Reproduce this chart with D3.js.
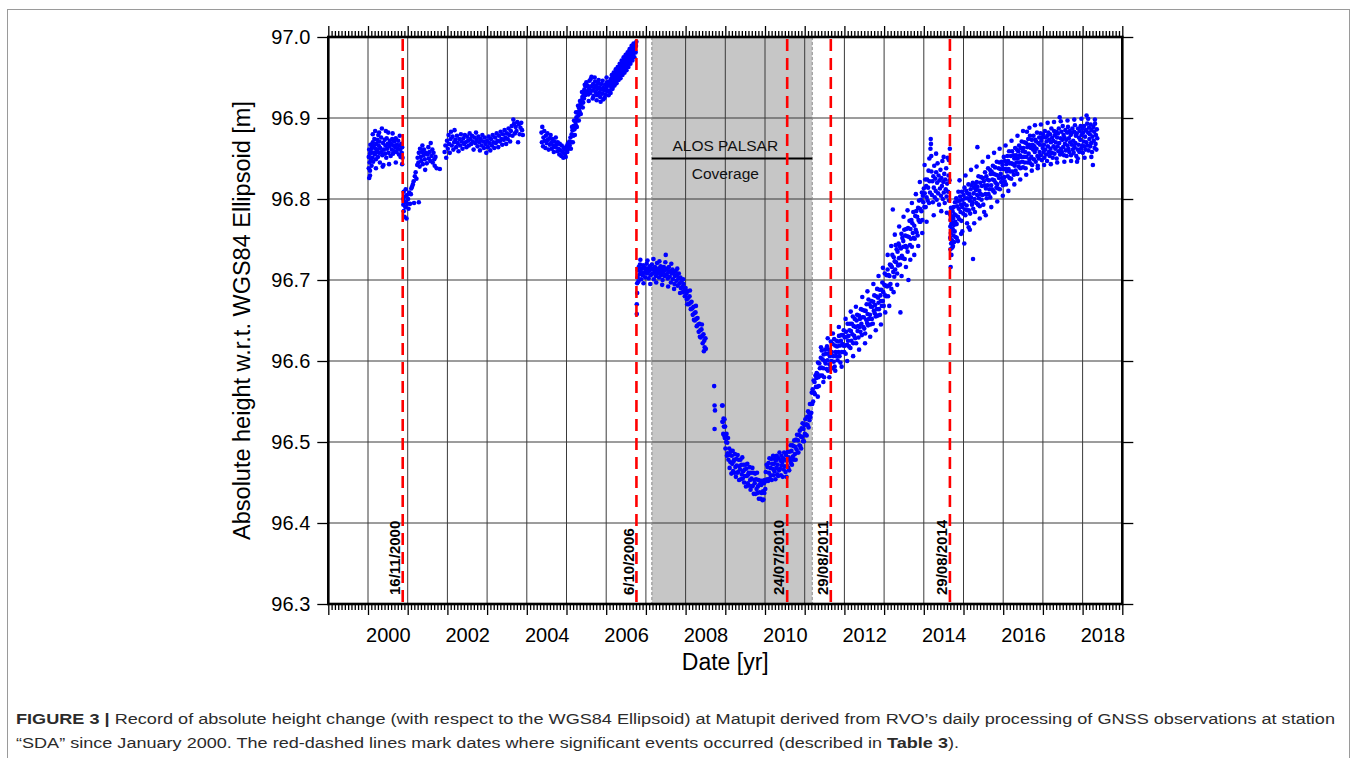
<!DOCTYPE html>
<html>
<head>
<meta charset="utf-8">
<script src="https://cdn.jsdelivr.net/npm/d3@7"></script>
<style>
  body { margin: 0; background: #fff; }
  svg { display: block; }
</style>
</head>
<body>
<svg id="fig" width="1357" height="758"></svg>
<script>
// Daily GNSS solutions for station SDA (Matupit): [decimal year, ellipsoidal height in m]
const obs2000 = [[2000.02,96.852],[2000.02,96.838],[2000.03,96.861],[2000.04,96.845],[2000.05,96.829],[2000.05,96.856],[2000.06,96.867],[2000.07,96.848],[2000.08,96.858],[2000.09,96.841],[2000.10,96.863],[2000.11,96.851],[2000.12,96.870],[2000.13,96.846],[2000.14,96.857],[2000.15,96.866],[2000.16,96.874],[2000.17,96.855],[2000.18,96.884],[2000.19,96.862],[2000.20,96.849],[2000.21,96.868],[2000.22,96.858],[2000.23,96.873],[2000.24,96.861],[2000.25,96.852],[2000.26,96.879],[2000.27,96.866],[2000.28,96.857],[2000.29,96.871],[2000.30,96.845],[2000.31,96.863],[2000.33,96.876],[2000.34,96.858],[2000.35,96.887],[2000.36,96.854],[2000.38,96.869],[2000.39,96.842],[2000.40,96.861],[2000.42,96.873],[2000.43,96.856],[2000.44,96.866],[2000.46,96.851],[2000.47,96.875],[2000.48,96.862],[2000.50,96.868],[2000.51,96.882],[2000.52,96.857],[2000.54,96.865],[2000.55,96.872],[2000.57,96.853],[2000.58,96.868],[2000.60,96.861],[2000.61,96.874],[2000.63,96.856],[2000.64,96.866],[2000.66,96.871],[2000.67,96.859],[2000.69,96.864],[2000.70,96.875],[2000.72,96.858],[2000.73,96.867],[2000.75,96.862],[2000.76,96.872],[2000.78,96.855],[2000.79,96.866],[2000.81,96.861],[2000.82,96.852],[2000.84,96.868],[2000.85,96.857],[2000.86,96.864],[2000.87,96.851],
  [2000.03,96.826],[2000.05,96.835],[2000.12,96.880],[2000.20,96.838],[2000.28,96.882],[2000.37,96.840],[2000.45,96.884],[2000.53,96.843],[2000.62,96.881],[2000.70,96.845],[2000.80,96.878],[2000.86,96.843]];

const obs2001 = [[2000.89,96.800],[2000.89,96.793],[2000.90,96.809],[2000.90,96.785],[2000.91,96.797],[2000.92,96.778],[2000.93,96.803],[2000.94,96.790],[2000.95,96.812],[2000.96,96.796],[2000.97,96.776],[2000.98,96.805],[2000.99,96.794],[2001.01,96.800],[2001.02,96.788],[2001.04,96.808],[2001.06,96.794],[2001.08,96.806],[2001.09,96.813],[2001.11,96.815],[2001.13,96.818],[2001.15,96.822],[2001.16,96.795],[2001.18,96.828],[2001.20,96.833],[2001.22,96.825],[2001.24,96.842],[2001.25,96.851],[2001.27,96.845],[2001.28,96.796],[2001.28,96.857],[2001.30,96.840],[2001.31,96.862],[2001.33,96.852],[2001.34,96.847],[2001.36,96.858],[2001.37,96.866],[2001.38,96.843],[2001.40,96.854],[2001.41,96.861],[2001.43,96.849],[2001.44,96.836],[2001.46,96.857],[2001.48,96.844],[2001.50,96.855],[2001.52,96.864],[2001.53,96.850],[2001.55,96.858],[2001.57,96.847],[2001.58,96.869],[2001.60,96.853],[2001.62,96.861],[2001.63,96.845],[2001.65,96.857],[2001.67,96.849],[2001.68,96.841],[2001.70,96.852],[2001.73,96.838],[2001.81,96.837]];

const obs2002 = [[2001.93,96.858],[2001.95,96.866],[2001.97,96.851],[2001.99,96.872],[2002.01,96.862],[2002.03,96.879],[2002.04,96.868],[2002.06,96.857],[2002.08,96.874],[2002.09,96.883],[2002.11,96.866],[2002.13,96.877],[2002.15,96.861],[2002.17,96.870],[2002.18,96.885],[2002.20,96.873],[2002.22,96.864],[2002.24,96.878],[2002.26,96.869],[2002.28,96.859],[2002.30,96.874],[2002.32,96.866],[2002.34,96.880],[2002.36,96.871],[2002.38,96.862],[2002.40,96.875],[2002.42,96.868],[2002.44,96.879],[2002.46,96.870],[2002.48,96.864],[2002.50,96.877],[2002.52,96.872],[2002.54,96.866],[2002.56,96.881],[2002.58,96.874],[2002.60,96.868],[2002.62,96.878],[2002.64,96.871],[2002.66,96.861],[2002.68,96.876],[2002.70,96.869],[2002.72,96.882],[2002.74,96.873],[2002.76,96.865],[2002.78,96.877],[2002.80,96.870],[2002.82,96.860],[2002.84,96.874],[2002.86,96.866],[2002.88,96.879],[2002.90,96.871],[2002.92,96.863],[2002.94,96.876],[2002.96,96.868],[2002.98,96.857],[2003.00,96.872],[2003.02,96.864],[2003.04,96.877],[2003.06,96.869],[2003.08,96.860],[2003.10,96.874],[2003.12,96.866],[2003.14,96.879],[2003.16,96.870],[2003.18,96.863],[2003.20,96.876],[2003.22,96.869],[2003.24,96.881],[2003.26,96.872],[2003.28,96.864],[2003.30,96.878],[2003.32,96.871],[2003.34,96.883],[2003.36,96.874],[2003.38,96.867],[2003.40,96.880],[2003.42,96.873],[2003.44,96.885],[2003.46,96.876],[2003.48,96.868],[2003.50,96.881],[2003.52,96.874],[2003.54,96.887],[2003.56,96.879],[2003.58,96.871],[2003.60,96.884],[2003.62,96.890],[2003.64,96.878],[2003.66,96.898],[2003.68,96.893],[2003.70,96.881],[2003.72,96.889],[2003.74,96.884],[2003.76,96.895],[2003.78,96.870],[2003.80,96.892],[2003.82,96.880],[2003.84,96.888],[2003.86,96.894],[2003.88,96.885],[2003.90,96.879]];

const obs2004 = [[2004.37,96.882],[2004.38,96.870],[2004.39,96.889],[2004.41,96.865],[2004.42,96.876],[2004.44,96.884],[2004.45,96.872],[2004.47,96.863],[2004.48,96.878],[2004.50,96.869],[2004.52,96.881],[2004.53,96.873],[2004.55,96.861],[2004.57,96.875],[2004.58,96.867],[2004.60,96.879],[2004.62,96.870],[2004.63,96.862],[2004.65,96.874],[2004.67,96.866],[2004.68,96.858],[2004.70,96.871],[2004.72,96.864],[2004.73,96.876],[2004.75,96.867],[2004.77,96.859],[2004.78,96.870],[2004.80,96.862],[2004.82,96.855],[2004.83,96.868],[2004.85,96.860],[2004.87,96.853],[2004.88,96.866],[2004.90,96.858],[2004.92,96.851],[2004.93,96.863],[2004.95,96.856],[2004.97,96.861],[2004.98,96.852],[2005.00,96.865],[2005.02,96.858],[2005.03,96.868],[2005.05,96.862],[2005.07,96.871],[2005.08,96.866],[2005.10,96.876],[2005.12,96.870],[2005.13,96.880],[2005.15,96.885],[2005.17,96.878],[2005.18,96.890],[2005.20,96.886],[2005.22,96.896],[2005.23,96.892],[2005.25,96.901],[2005.27,96.897],[2005.28,96.907],[2005.30,96.903],[2005.32,96.912],[2005.33,96.908],[2005.35,96.917],[2005.37,96.914],[2005.38,96.922],[2005.40,96.926],[2005.42,96.919],[2005.43,96.930],[2005.45,96.935],[2005.47,96.928],[2005.48,96.939],[2005.50,96.944],[2005.52,96.933],[2005.53,96.940],[2005.55,96.929],[2005.57,96.936],[2005.58,96.946],[2005.60,96.931],[2005.62,96.939],[2005.63,96.951],[2005.65,96.934],[2005.67,96.942],[2005.68,96.927],[2005.70,96.937],[2005.72,96.945],[2005.73,96.932],[2005.75,96.940],[2005.77,96.928],[2005.78,96.936],[2005.80,96.943],[2005.82,96.931],[2005.83,96.938],[2005.85,96.926],[2005.87,96.935],[2005.88,96.942],[2005.90,96.930],[2005.92,96.937],[2005.93,96.923],[2005.95,96.934],[2005.97,96.941],[2005.98,96.929],[2006.00,96.937],[2006.02,96.944],[2006.03,96.933],[2006.05,96.940],[2006.07,96.945],[2006.08,96.934],[2006.10,96.941],[2006.12,96.948],[2006.13,96.938],[2006.15,96.944],[2006.17,96.951],[2006.18,96.942],[2006.20,96.948],[2006.22,96.954],[2006.23,96.945],[2006.25,96.951],[2006.27,96.958],[2006.28,96.948],[2006.30,96.955],[2006.32,96.961],[2006.33,96.952],[2006.35,96.958],[2006.37,96.965],[2006.38,96.955],[2006.40,96.962],[2006.42,96.968],[2006.43,96.959],[2006.45,96.965],[2006.47,96.972],[2006.48,96.962],[2006.50,96.969],[2006.52,96.976],[2006.53,96.966],[2006.55,96.973],[2006.57,96.980],[2006.58,96.970],[2006.60,96.977],[2006.62,96.984],[2006.63,96.974],[2006.65,96.981],[2006.67,96.988],[2006.68,96.978],[2006.70,96.985],[2006.72,96.991],[2006.73,96.982],[2006.75,96.989],[2006.76,96.994],
  [2005.11,96.862],[2005.14,96.889],[2005.16,96.870],[2005.19,96.897],[2005.21,96.879],[2005.24,96.907],[2005.26,96.889],[2005.29,96.915],[2005.31,96.897],[2005.34,96.921],[2005.36,96.905],[2005.39,96.932],[2005.41,96.913],[2005.44,96.924],[2005.46,96.941],[2005.49,96.931],[2005.56,96.921],[2005.61,96.948],[2005.66,96.924],[2005.71,96.950],[2005.76,96.922],[2005.81,96.947],[2005.86,96.920],[2005.91,96.946],[2005.96,96.925],[2006.01,96.950],[2006.06,96.928],[2006.11,96.931],[2006.14,96.953],[2006.16,96.936],[2006.19,96.956],[2006.21,96.940],[2006.24,96.960],[2006.26,96.943],[2006.29,96.963],[2006.31,96.947],[2006.34,96.967],[2006.36,96.949],[2006.39,96.971],[2006.41,96.953],[2006.44,96.975],[2006.46,96.956],[2006.49,96.978],[2006.51,96.959],[2006.54,96.981],[2006.56,96.963],[2006.59,96.985],[2006.61,96.967],[2006.64,96.989],[2006.66,96.971],[2006.69,96.992],[2006.71,96.975],[2006.74,96.981]];

const obs2006 = [[2006.77,96.658],[2006.77,96.670],[2006.78,96.684],[2006.78,96.696],[2006.79,96.703],[2006.80,96.712],[2006.81,96.698],[2006.82,96.716],[2006.84,96.707],[2006.85,96.719],[2006.87,96.710],[2006.88,96.701],[2006.90,96.714],[2006.92,96.706],[2006.93,96.718],[2006.95,96.709],[2006.97,96.715],[2006.98,96.703],[2007.00,96.712],[2007.02,96.720],[2007.03,96.708],[2007.05,96.714],[2007.07,96.702],[2007.08,96.711],[2007.10,96.717],[2007.12,96.706],[2007.13,96.713],[2007.15,96.719],[2007.17,96.708],[2007.18,96.714],[2007.20,96.701],[2007.22,96.710],[2007.23,96.716],[2007.25,96.705],[2007.27,96.712],[2007.28,96.721],[2007.30,96.708],[2007.32,96.714],[2007.33,96.703],[2007.35,96.711],[2007.37,96.717],[2007.38,96.706],[2007.40,96.713],[2007.42,96.700],[2007.43,96.709],[2007.45,96.716],[2007.47,96.705],[2007.48,96.712],[2007.50,96.731],[2007.52,96.707],[2007.53,96.714],[2007.55,96.702],[2007.57,96.710],[2007.58,96.716],[2007.60,96.704],[2007.62,96.711],[2007.63,96.697],[2007.65,96.708],[2007.67,96.713],[2007.68,96.701],[2007.70,96.709],[2007.72,96.695],[2007.73,96.705],[2007.75,96.711],[2007.77,96.699],[2007.78,96.706],[2007.80,96.693],[2007.82,96.702],[2007.83,96.708],[2007.85,96.696],[2007.87,96.703],[2007.88,96.690],[2007.90,96.699],[2007.92,96.692],[2007.93,96.685],[2007.95,96.695],[2007.97,96.688],[2007.98,96.680],[2008.00,96.690],[2008.02,96.683],[2008.03,96.676],[2008.05,96.686],[2008.07,96.678],[2008.08,96.670],[2008.10,96.680],[2008.12,96.672],[2008.13,96.664],[2008.15,96.673],[2008.17,96.665],[2008.18,96.657],[2008.20,96.667],[2008.22,96.659],[2008.23,96.650],[2008.25,96.660],[2008.27,96.652],[2008.28,96.643],[2008.30,96.653],[2008.32,96.645],[2008.33,96.636],[2008.35,96.646],[2008.37,96.638],[2008.38,96.629],[2008.40,96.639],[2008.42,96.631],[2008.43,96.622],[2008.45,96.633],[2008.47,96.625],[2008.48,96.617],[2008.50,96.628],[2008.51,96.615],
  [2006.86,96.725],[2006.94,96.696],[2007.04,96.724],[2007.11,96.695],[2007.19,96.726],[2007.26,96.697],[2007.34,96.723],[2007.41,96.694],[2007.49,96.722],[2007.56,96.692],[2007.64,96.720],[2007.71,96.689],[2007.79,96.714],[2007.86,96.684],[2007.94,96.701],[2008.04,96.670],[2008.11,96.687],[2008.21,96.651],[2008.26,96.668],[2008.36,96.630],[2008.41,96.645],[2008.46,96.612],
  [2008.72,96.569],[2008.73,96.545],[2008.74,96.539],[2008.73,96.516]];

const obs2008 = [[2008.920,96.545],[2008.927,96.525],[2008.934,96.545],[2008.941,96.525],[2008.948,96.510],[2008.956,96.529],[2008.964,96.519],[2008.972,96.508],[2008.980,96.528],[2008.988,96.505],[2008.996,96.519],[2009.004,96.492],[2009.013,96.507],[2009.022,96.500],[2009.031,96.510],[2009.040,96.483],[2009.049,96.499],[2009.058,96.486],[2009.068,96.505],[2009.078,96.478],[2009.088,96.485],[2009.098,96.492],[2009.109,96.468],[2009.120,96.484],[2009.131,96.475],[2009.142,96.489],[2009.153,96.461],[2009.164,96.483],[2009.175,96.473],[2009.186,96.489],[2009.197,96.464],[2009.208,96.476],[2009.220,96.478],[2009.231,96.462],[2009.243,96.485],[2009.254,96.469],[2009.266,96.457],[2009.277,96.479],[2009.289,96.471],[2009.300,96.462],[2009.312,96.484],[2009.324,96.463],[2009.335,96.478],[2009.347,96.453],[2009.358,96.470],[2009.370,96.466],[2009.381,96.478],[2009.393,96.454],[2009.405,96.472],[2009.416,96.460],[2009.428,96.481],[2009.439,96.455],[2009.451,96.464],[2009.462,96.472],[2009.474,96.450],[2009.486,96.466],[2009.497,96.458],[2009.509,96.472],[2009.520,96.445],[2009.532,96.467],[2009.544,96.458],[2009.555,96.473],[2009.567,96.449],[2009.578,96.460],[2009.590,96.462],[2009.601,96.446],[2009.613,96.469],[2009.625,96.453],[2009.636,96.441],[2009.648,96.462],[2009.659,96.455],[2009.671,96.445],[2009.683,96.468],[2009.694,96.446],[2009.706,96.462],[2009.717,96.436],[2009.729,96.453],[2009.741,96.449],[2009.752,96.461],[2009.764,96.436],[2009.775,96.454],[2009.787,96.442],[2009.799,96.462],[2009.810,96.437],[2009.822,96.445],[2009.833,96.453],[2009.845,96.430],[2009.857,96.447],[2009.868,96.438],[2009.880,96.452],[2009.891,96.430],[2009.903,96.447],[2009.915,96.437],[2009.926,96.452],[2009.938,96.428],[2009.949,96.439],[2009.961,96.429],[2009.972,96.449],[2009.984,96.437],[2009.995,96.453],[2010.007,96.442],[2010.018,96.463],[2010.030,96.452],[2010.041,96.472],[2010.053,96.454],[2010.064,96.469],[2010.076,96.452],[2010.088,96.474],[2010.099,96.462],[2010.111,96.480],[2010.122,96.455],[2010.134,96.468],[2010.146,96.459],[2010.157,96.479],[2010.169,96.453],[2010.180,96.473],[2010.192,96.467],[2010.204,96.483],[2010.215,96.459],[2010.227,96.473],[2010.238,96.464],[2010.250,96.479],[2010.262,96.454],[2010.273,96.477],[2010.285,96.468],[2010.296,96.483],[2010.308,96.460],[2010.320,96.472],[2010.331,96.458],[2010.343,96.480],[2010.354,96.465],[2010.366,96.487],[2010.378,96.467],[2010.389,96.477],[2010.401,96.459],[2010.412,96.483],[2010.424,96.471],[2010.436,96.475],[2010.447,96.457],[2010.459,96.480],[2010.470,96.466],[2010.482,96.487],[2010.494,96.470],[2010.505,96.478],[2010.517,96.463],[2010.528,96.484],[2010.540,96.457],[2010.552,96.477],[2010.563,96.470],[2010.575,96.488],[2010.586,96.468],[2010.598,96.481],[2010.610,96.465],[2010.621,96.488],[2010.633,96.478],[2010.644,96.496],[2010.656,96.474],[2010.668,96.489],[2010.679,96.472],[2010.691,96.496],[2010.702,96.482],[2010.714,96.495],[2010.726,96.478],[2010.737,96.502],[2010.749,96.485],[2010.760,96.494],[2010.772,96.478],[2010.784,96.503],[2010.795,96.491],[2010.807,96.509],[2010.818,96.487],[2010.830,96.502],[2010.842,96.487],[2010.853,96.509],[2010.865,96.496],[2010.876,96.514],[2010.888,96.495],[2010.900,96.507],[2010.911,96.492],[2010.923,96.517],[2010.934,96.506],[2010.946,96.523],[2010.958,96.501],[2010.969,96.516],[2010.981,96.501],[2010.992,96.521],[2011.004,96.510],[2011.016,96.528],[2011.027,96.509],[2011.039,96.522],[2011.050,96.508],[2011.062,96.531],[2011.074,96.521],[2011.085,96.538],[2011.097,96.518],[2011.108,96.536],[2011.120,96.527],[2011.132,96.547],[2011.143,96.531],[2011.155,96.547],[2011.166,96.536],[2011.178,96.561],[2011.190,96.547],[2011.201,96.565],[2011.213,96.550],[2011.224,96.576],[2011.236,96.561],[2011.248,96.574],[2011.259,96.559],[2011.271,96.582],[2011.282,96.568],[2011.294,96.579]];

const obs2011 = [[2011.300,96.585],[2011.311,96.568],[2011.322,96.584],[2011.335,96.598],[2011.346,96.580],[2011.357,96.569],[2011.369,96.597],[2011.382,96.591],[2011.393,96.582],[2011.405,96.604],[2011.418,96.592],[2011.429,96.613],[2011.441,96.582],[2011.452,96.602],[2011.466,96.591],[2011.477,96.608],[2011.489,96.580],[2011.500,96.600],[2011.513,96.614],[2011.526,96.597],[2011.537,96.609],[2011.549,96.590],[2011.561,96.618],[2011.574,96.601],[2011.586,96.588],[2011.597,96.609],[2011.609,96.614],[2011.622,96.596],[2011.634,96.606],[2011.646,96.592],[2011.657,96.624],[2011.671,96.600],[2011.683,96.611],[2011.694,96.591],[2011.706,96.621],[2011.719,96.606],[2011.731,96.599],[2011.742,96.627],[2011.755,96.593],[2011.767,96.619],[2011.779,96.611],[2011.791,96.606],[2011.803,96.625],[2011.815,96.618],[2011.828,96.601],[2011.839,96.624],[2011.851,96.611],[2011.864,96.631],[2011.876,96.606],[2011.887,96.619],[2011.899,96.598],[2011.912,96.625],[2011.924,96.632],[2011.935,96.611],[2011.948,96.621],[2011.960,96.632],[2011.972,96.619],[2011.983,96.638],[2011.996,96.611],[2012.008,96.629],[2012.020,96.619],[2012.032,96.609],[2012.043,96.636],[2012.056,96.630],[2012.068,96.620],[2012.080,96.646],[2012.091,96.625],[2012.104,96.631],[2012.116,96.618],[2012.127,96.638],[2012.139,96.646],[2012.152,96.616],[2012.164,96.637],[2012.175,96.625],[2012.188,96.646],[2012.200,96.633],[2012.212,96.655],[2012.223,96.622],[2012.236,96.643],[2012.248,96.631],[2012.260,96.652],[2012.271,96.628],[2012.284,96.642],[2012.296,96.622],[2012.307,96.650],[2012.320,96.657],[2012.332,96.637],[2012.344,96.643],[2012.355,96.629],[2012.368,96.656],[2012.380,96.642],[2012.391,96.652],[2012.404,96.636],[2012.416,96.664],[2012.428,96.646],[2012.440,96.632],[2012.452,96.654],[2012.464,96.663],[2012.475,96.642],[2012.488,96.654],[2012.500,96.640],[2012.512,96.662],[2012.523,96.634],[2012.536,96.662],[2012.548,96.651],[2012.560,96.670],[2012.571,96.647],[2012.584,96.658],[2012.596,96.644],[2012.607,96.676],[2012.620,96.652],[2012.632,96.670],[2012.644,96.657],[2012.655,96.645],[2012.668,96.667],[2012.680,96.674],[2012.691,96.652],[2012.704,96.667],[2012.716,96.646],[2012.727,96.673],[2012.740,96.662],[2012.752,96.681],[2012.764,96.659],[2012.775,96.669],[2012.788,96.655],[2012.800,96.680],[2012.812,96.664],[2012.824,96.689],[2012.835,96.656],[2012.848,96.678],[2012.860,96.672],[2012.871,96.664],[2012.884,96.688],[2012.896,96.657],[2012.907,96.681],[2012.920,96.674],[2012.932,96.688],[2012.944,96.668],[2012.955,96.697],[2012.968,96.674],[2012.980,96.685],[2012.991,96.668],[2013.004,96.694],[2013.016,96.708],[2013.027,96.681],[2013.040,96.693],[2013.052,96.680],[2013.063,96.706],[2013.076,96.692],[2013.088,96.713],[2013.100,96.680],[2013.111,96.706],[2013.124,96.693],[2013.136,96.705],[2013.147,96.719],[2013.160,96.695],[2013.172,96.718],[2013.183,96.689],[2013.196,96.716],[2013.208,96.731],[2013.220,96.787],[2013.231,96.710],[2013.244,96.728],[2013.256,96.704],[2013.267,96.723],[2013.280,96.713],[2013.292,96.743],[2013.303,96.722],[2013.316,96.738],[2013.328,96.708],[2013.339,96.735],[2013.352,96.718],[2013.364,96.745],[2013.375,96.727],[2013.388,96.742],[2013.400,96.719],[2013.411,96.660],[2013.424,96.739],[2013.436,96.757],[2013.447,96.730],[2013.460,96.752],[2013.472,96.727],[2013.483,96.748],[2013.496,96.741],[2013.508,96.762],[2013.520,96.726],[2013.531,96.755],[2013.544,96.742],[2013.556,96.763],[2013.567,96.740],[2013.580,96.754],[2013.592,96.735],[2013.604,96.764],[2013.612,96.700],[2013.628,96.753],[2013.640,96.773],[2013.652,96.743],[2013.664,96.763],[2013.675,96.751],[2013.688,96.774],[2013.700,96.741],[2013.712,96.770],[2013.723,96.758],[2013.736,96.784],[2013.748,96.752],[2013.760,96.767],[2013.771,96.751],[2013.784,96.779],[2013.796,96.762],[2013.808,96.785],[2013.819,96.759],[2013.832,96.778],[2013.844,96.755],[2013.856,96.789],[2013.867,96.774],[2013.880,96.798],[2013.892,96.772],[2013.904,96.788],[2013.915,96.772],[2013.928,96.799],[2013.940,96.785],[2013.952,96.808],[2013.963,96.774],[2013.976,96.804],[2013.988,96.796],[2014.000,96.813],[2014.012,96.790],[2014.023,96.807],[2014.036,96.824],[2014.048,96.790],[2014.060,96.816],[2014.071,96.802],[2014.084,96.824],[2014.096,96.798],[2014.108,96.814],[2014.119,96.835],[2014.132,96.795],[2014.144,96.822],[2014.156,96.808],[2014.168,96.862],[2014.175,96.874],[2014.180,96.868],[2014.188,96.853],[2014.192,96.834],[2014.204,96.805],[2014.215,96.822],[2014.228,96.796],[2014.240,96.828],[2014.252,96.814],[2014.263,96.841],[2014.276,96.802],[2014.288,96.825],[2014.300,96.810],[2014.311,96.833],[2014.324,96.799],[2014.336,96.820],[2014.347,96.844],[2014.360,96.807],[2014.372,96.829],[2014.384,96.793],[2014.395,96.823],[2014.408,96.813],[2014.420,96.836],[2014.432,96.804],[2014.443,96.826],[2014.456,96.816],[2014.468,96.847],[2014.480,96.800],[2014.491,96.821],[2014.504,96.808],[2014.516,96.831],[2014.527,96.795],[2014.540,96.824],[2014.552,96.812],[2014.564,96.838],[2014.575,96.803],[2014.588,96.819],[2014.600,96.851],[2014.612,96.809],[2014.623,96.829],[2014.636,96.798],[2014.648,96.823],[2014.656,96.862],
  [2011.33,96.556],[2011.41,96.617],[2011.47,96.574],[2011.58,96.628],[2011.62,96.580],[2011.71,96.634],[2011.77,96.588],[2011.86,96.642],[2011.93,96.593],[2012.03,96.652],[2012.07,96.600],[2012.16,96.661],[2012.22,96.606],[2012.29,96.667],[2012.37,96.614],[2012.45,96.679],[2012.52,96.622],[2012.58,96.686],[2012.65,96.630],[2012.73,96.695],[2012.79,96.638],[2012.86,96.705],[2012.92,96.645],[2012.97,96.715],[2013.03,96.660],[2013.09,96.731],[2013.13,96.668],[2013.18,96.742],[2013.24,96.685],[2013.27,96.756],[2013.33,96.694],[2013.38,96.766],[2013.44,96.705],[2013.49,96.778],[2013.55,96.716],[2013.59,96.786],[2013.66,96.725],[2013.70,96.795],[2013.76,96.731],[2013.80,96.806],[2013.86,96.742],[2013.90,96.821],[2013.96,96.758],[2014.02,96.842],[2014.07,96.772],[2014.14,96.850],[2014.25,96.780],[2014.31,96.856],[2014.44,96.785],[2014.50,96.852],[2014.58,96.783],[2014.63,96.848]];

const obs2014 = [[2014.663,96.781],[2014.665,96.752],[2014.668,96.766],[2014.671,96.738],[2014.674,96.774],[2014.677,96.716],[2014.680,96.758],[2014.684,96.789],[2014.688,96.745],[2014.692,96.769],[2014.696,96.731],[2014.700,96.762],[2014.705,96.778],[2014.709,96.749],[2014.714,96.771],[2014.719,96.740],[2014.724,96.785],[2014.729,96.763],[2014.735,96.742],[2014.741,96.776],[2014.747,96.755],[2014.753,96.790],[2014.759,96.768],[2014.765,96.747],[2014.772,96.781],[2014.778,96.760],[2014.785,96.796],[2014.791,96.772],[2014.798,96.753],[2014.805,96.780],[2014.816,96.801],[2014.827,96.769],[2014.838,96.791],[2014.849,96.797],[2014.860,96.778],[2014.871,96.809],[2014.882,96.788],[2014.893,96.775],[2014.904,96.798],[2014.915,96.803],[2014.926,96.784],[2014.937,96.793],[2014.948,96.773],[2014.959,96.809],[2014.970,96.790],[2014.981,96.799],[2014.992,96.782],[2015.003,96.805],[2015.014,96.794],[2015.025,96.814],[2015.036,96.787],[2015.047,96.780],[2015.058,96.801],[2015.069,96.810],[2015.080,96.792],[2015.091,96.786],[2015.102,96.807],[2015.113,96.801],[2015.124,96.818],[2015.135,96.786],[2015.146,96.806],[2015.157,96.798],[2015.168,96.782],[2015.179,96.812],[2015.190,96.802],[2015.201,96.817],[2015.212,96.793],[2015.223,96.796],[2015.234,96.820],[2015.240,96.726],[2015.245,96.788],[2015.256,96.807],[2015.267,96.814],[2015.278,96.800],[2015.289,96.784],[2015.300,96.818],[2015.311,96.811],[2015.322,96.795],[2015.333,96.821],[2015.344,96.805],[2015.350,96.864],[2015.355,96.815],[2015.366,96.793],[2015.377,96.828],[2015.388,96.801],[2015.399,96.810],[2015.410,96.791],[2015.421,96.820],[2015.432,96.806],[2015.443,96.827],[2015.454,96.799],[2015.465,96.816],[2015.476,96.805],[2015.487,96.826],[2015.498,96.793],[2015.509,96.822],[2015.520,96.784],[2015.531,96.817],[2015.542,96.833],[2015.553,96.806],[2015.564,96.813],[2015.575,96.828],[2015.586,96.801],[2015.597,96.824],[2015.608,96.817],[2015.619,96.838],[2015.630,96.806],[2015.641,96.823],[2015.652,96.812],[2015.663,96.836],[2015.674,96.802],[2015.685,96.831],[2015.696,96.817],[2015.707,96.834],[2015.718,96.812],[2015.729,96.824],[2015.740,96.841],[2015.751,96.810],[2015.762,96.831],[2015.773,96.823],[2015.784,96.808],[2015.795,96.839],[2015.806,96.820],[2015.817,96.830],[2015.828,96.814],[2015.839,96.846],[2015.850,96.818],[2015.861,96.829],[2015.872,96.813],[2015.883,96.838],[2015.894,96.826],[2015.905,96.845],[2015.916,96.812],[2015.927,96.837],[2015.938,96.831],[2015.949,96.821],[2015.960,96.846],[2015.971,96.826],[2015.982,96.842],[2015.993,96.817],[2016.004,96.837],[2016.015,96.852],[2016.026,96.827],[2016.037,96.822],[2016.048,96.847],[2016.059,96.837],[2016.070,96.818],[2016.081,96.843],[2016.092,96.834],[2016.103,96.853],[2016.114,96.828],[2016.125,96.847],[2016.136,96.837],[2016.147,96.859],[2016.158,96.826],[2016.169,96.844],[2016.180,96.834],[2016.191,96.853],[2016.202,96.825],[2016.213,96.844],[2016.224,96.859],[2016.235,96.834],[2016.246,96.843],[2016.257,96.854],[2016.268,96.830],[2016.279,96.850],[2016.290,96.841],[2016.301,96.863],[2016.312,96.835],[2016.323,96.854],[2016.334,96.845],[2016.345,96.861],[2016.356,96.831],[2016.367,96.850],[2016.378,96.859],[2016.389,96.840],[2016.400,96.866],[2016.411,96.845],[2016.422,96.854],[2016.433,96.838],[2016.444,96.863],[2016.455,96.852],[2016.466,96.871],[2016.477,96.846],[2016.488,96.859],[2016.499,96.839],[2016.510,96.863],[2016.521,96.852],[2016.532,96.870],[2016.543,96.845],[2016.554,96.858],[2016.565,96.838],[2016.576,96.869],[2016.587,96.852],[2016.598,96.883],[2016.609,96.864],[2016.620,96.845],[2016.631,96.874],[2016.642,96.856],[2016.653,96.867],[2016.664,96.849],[2016.675,96.878],[2016.686,96.844],[2016.697,96.863],[2016.708,96.852],[2016.719,96.873],[2016.730,96.842],[2016.741,96.867],[2016.752,96.861],[2016.763,96.878],[2016.774,96.849],[2016.785,96.865],[2016.796,96.858],[2016.807,96.873],[2016.818,96.846],[2016.829,96.871],[2016.840,96.862],[2016.851,96.882],[2016.862,96.853],[2016.870,96.841],[2016.884,96.869],[2016.895,96.850],[2016.906,96.876],[2016.917,96.858],[2016.928,96.867],[2016.939,96.881],[2016.950,96.854],[2016.961,96.872],[2016.972,96.848],[2016.983,96.876],[2016.994,96.863],[2017.005,96.880],[2017.016,96.858],[2017.027,96.867],[2017.038,96.851],[2017.049,96.884],[2017.060,96.861],[2017.071,96.876],[2017.082,96.855],[2017.093,96.871],[2017.104,96.847],[2017.115,96.878],[2017.126,96.865],[2017.137,96.882],[2017.148,96.858],[2017.159,96.873],[2017.170,96.853],[2017.181,96.880],[2017.192,96.862],[2017.203,96.870],[2017.214,96.887],[2017.225,96.857],[2017.236,96.876],[2017.247,96.851],[2017.258,96.872],[2017.269,96.865],[2017.280,96.884],[2017.291,96.856],[2017.302,96.879],[2017.313,96.862],[2017.324,96.870],[2017.335,96.883],[2017.346,96.850],[2017.357,96.876],[2017.368,96.865],[2017.379,96.881],[2017.390,96.859],[2017.401,96.887],[2017.412,96.869],[2017.423,96.901],[2017.434,96.855],[2017.445,96.875],[2017.456,96.862],[2017.467,96.883],[2017.478,96.858],[2017.489,96.873],[2017.500,96.890],[2017.511,96.864],[2017.522,96.879],[2017.533,96.854],[2017.544,96.876],[2017.555,96.868],[2017.566,96.885],[2017.577,96.860],[2017.588,96.873],[2017.599,96.853],[2017.610,96.882],[2017.621,96.866],[2017.632,96.889],[2017.643,96.862],[2017.654,96.875],[2017.665,96.858],[2017.676,96.884],[2017.687,96.870],[2017.698,96.879],[2017.709,96.854],[2017.720,96.881],[2017.731,96.867],[2017.742,96.887],[2017.753,96.861],[2017.764,96.872],[2017.775,96.857],[2017.786,96.883],[2017.797,96.864],[2017.808,96.891],[2017.819,96.869],[2017.830,96.878],[2017.841,96.853],[2017.852,96.881],[2017.860,96.846],[2017.874,96.861],[2017.885,96.887],[2017.896,96.867],[2017.907,96.876],[2017.918,96.858],[2017.929,96.884],[2017.940,96.873],[2017.951,96.890],[2017.962,96.862],[2017.973,96.879],[2017.984,96.866],[2017.995,96.887],[2018.006,96.857],[2018.017,96.882],[2018.028,96.871],[2018.039,96.890],[2018.050,96.865],[2018.061,96.877],[2018.072,96.861],[2018.083,96.885],[2018.094,96.870],[2018.100,96.903],[2018.116,96.893],[2018.127,96.866],[2018.138,96.882],[2018.149,96.860],[2018.160,96.888],[2018.171,96.874],[2018.182,96.880],[2018.193,96.865],[2018.204,96.892],[2018.215,96.869],[2018.226,96.885],[2018.237,96.858],[2018.248,96.877],[2018.259,96.842],[2018.270,96.889],[2018.281,96.872],[2018.292,96.883],[2018.303,96.863],[2018.314,96.893],[2018.325,96.868],[2018.336,96.879],[2018.347,96.861],[2018.358,96.886],[2018.369,96.875],
  [2014.83,96.752],[2014.86,96.748],[2014.90,96.823],[2014.94,96.757],[2014.97,96.760],[2015.02,96.745],[2015.05,96.829],[2015.09,96.770],[2015.13,96.765],[2015.16,96.762],[2015.19,96.836],[2015.27,96.770],[2015.33,96.840],[2015.41,96.776],[2015.48,96.846],[2015.56,96.780],[2015.62,96.852],[2015.70,96.790],[2015.77,96.857],[2015.85,96.797],[2015.91,96.862],[2015.99,96.804],[2016.06,96.866],[2016.13,96.810],[2016.21,96.872],[2016.28,96.818],[2016.36,96.878],[2016.43,96.824],[2016.50,96.884],[2016.58,96.830],[2016.66,96.888],[2016.72,96.835],[2016.80,96.891],[2016.87,96.838],[2016.95,96.892],[2017.03,96.842],[2017.12,96.894],[2017.20,96.843],[2017.28,96.895],[2017.36,96.845],[2017.45,96.896],[2017.54,96.846],[2017.62,96.897],[2017.71,96.847],[2017.79,96.898],[2017.88,96.850],[2017.97,96.899],[2018.05,96.851],[2018.14,96.899],[2018.22,96.852],[2018.31,96.898]];

// Dates of significant events
const eventDates = ["2000-11-16", "2006-10-06", "2010-07-24", "2011-08-29", "2014-08-29"];

// ALOS PALSAR acquisition window (decimal years) and the level of its bar
const alosSpan = [2007.15, 2011.19];
const alosLevel = 96.85;
const alosText = ["ALOS PALSAR", "Coverage"];

// Axis ticks
const yTicks = [96.3, 96.4, 96.5, 96.6, 96.7, 96.8, 96.9, 97.0];
const gridYears = d3.range(1999, 2020);
const labelYears = [2000, 2002, 2004, 2006, 2008, 2010, 2012, 2014, 2016, 2018];

const yTitle = "Absolute height w.r.t. WGS84 Ellipsoid [m]";
const xTitle = "Date [yr]";

const FONT = "'Liberation Sans', Arial, Helvetica, sans-serif";

const svg = d3.select("#fig");
const pL = 328.3, pR = 1122.3, pT = 37, pB = 604;

const x = d3.scaleLinear().domain([1999, 2019]).range([pL, pR]);
const y = d3.scaleLinear().domain([96.3, 97.0]).range([pB, pT]);

// date -> decimal year
const parseDate = d3.timeParse("%Y-%m-%d");
function decYear(s) {
  const d = parseDate(s);
  const y0 = new Date(d.getFullYear(), 0, 1), y1 = new Date(d.getFullYear() + 1, 0, 1);
  return d.getFullYear() + (d - y0) / (y1 - y0);
}
const labelFmt = d3.timeFormat("%-d/%m/%Y");

// outer figure frame
svg.append("rect")
  .attr("x", 7.5).attr("y", 9.5).attr("width", 1342).attr("height", 770)
  .attr("fill", "none").attr("stroke", "#9a9a9a").attr("stroke-width", 1);

// ALOS coverage band
svg.append("rect")
  .attr("x", x(alosSpan[0])).attr("y", pT)
  .attr("width", x(alosSpan[1]) - x(alosSpan[0])).attr("height", pB - pT)
  .attr("fill", "#c6c6c6");

// grid
const grid = svg.append("g").attr("stroke", "#3a3a3a").attr("stroke-width", 1);
grid.selectAll("line.gx").data(gridYears).join("line")
  .attr("class", "gx")
  .attr("x1", d => x(d)).attr("x2", d => x(d)).attr("y1", pT).attr("y2", pB);
grid.selectAll("line.gy").data(yTicks).join("line")
  .attr("class", "gy")
  .attr("x1", pL).attr("x2", pR).attr("y1", d => y(d)).attr("y2", d => y(d));

// band edges
svg.selectAll("line.alosEdge").data(alosSpan).join("line")
  .attr("class", "alosEdge")
  .attr("x1", d => x(d)).attr("x2", d => x(d)).attr("y1", pT).attr("y2", pB)
  .attr("stroke", "#8a8a8a").attr("stroke-width", 1).attr("stroke-dasharray", "3,2");

// observations
const allObs = [].concat(obs2000, obs2001, obs2002, obs2004, obs2006, obs2008, obs2011, obs2014);
svg.append("g").attr("fill", "#0000ff")
  .selectAll("circle").data(allObs).join("circle")
  .attr("cx", d => x(d[0])).attr("cy", d => y(d[1])).attr("r", 2.3);

// ALOS bar and caption
svg.append("line")
  .attr("x1", x(alosSpan[0])).attr("x2", x(alosSpan[1]))
  .attr("y1", y(alosLevel)).attr("y2", y(alosLevel))
  .attr("stroke", "#000").attr("stroke-width", 2);
svg.selectAll("text.alos").data(alosText).join("text")
  .attr("class", "alos")
  .attr("x", x(2009)).attr("y", (d, i) => y(alosLevel) + (i === 0 ? -8 : 20))
  .attr("text-anchor", "middle")
  .attr("font-family", FONT).attr("font-size", 15.5).attr("fill", "#111")
  .text(d => d);

// event markers
const events = eventDates.map(s => ({ t: decYear(s), label: labelFmt(parseDate(s)) }));
svg.selectAll("line.event").data(events).join("line")
  .attr("class", "event")
  .attr("x1", d => x(d.t)).attr("x2", d => x(d.t)).attr("y1", pT + 2).attr("y2", pB)
  .attr("stroke", "#ff0000").attr("stroke-width", 2.6).attr("stroke-dasharray", "12,7");
svg.selectAll("text.event").data(events).join("text")
  .attr("class", "event")
  .attr("transform", d => `translate(${x(d.t) - 2.8},595) rotate(-90)`)
  .attr("font-family", FONT).attr("font-weight", "bold").attr("font-size", 15).attr("fill", "#000")
  .text(d => d.label);

// axes
const months = d3.range(1999, 2019 + 1e-9, 1 / 12).filter(v => Math.abs(v - Math.round(v)) > 1e-6);
function styleAxis(g) {
  g.select(".domain").remove();
  g.selectAll(".tick line").attr("stroke", "#000").attr("stroke-width", 1.3);
}
svg.append("g").attr("transform", `translate(0,${pB})`)
  .call(d3.axisBottom(x).tickValues(months).tickSize(6).tickFormat("")).call(styleAxis);
svg.append("g").attr("transform", `translate(0,${pB})`)
  .call(d3.axisBottom(x).tickValues(gridYears).tickSize(11).tickFormat("")).call(styleAxis);
svg.append("g").attr("transform", `translate(0,${pT})`)
  .call(d3.axisTop(x).tickValues(months).tickSize(6).tickFormat("")).call(styleAxis);
svg.append("g").attr("transform", `translate(0,${pT})`)
  .call(d3.axisTop(x).tickValues(gridYears).tickSize(11).tickFormat("")).call(styleAxis);

// year labels centred in their year
svg.append("g").attr("transform", `translate(0,${pB})`)
  .call(d3.axisBottom(x).tickValues(labelYears.map(v => v + 0.5)).tickSize(0).tickPadding(24)
    .tickFormat(v => String(Math.floor(v))))
  .call(g => {
    g.select(".domain").remove();
    g.selectAll("text").attr("font-family", FONT).attr("font-size", 20).attr("fill", "#000");
  });

svg.append("g").attr("transform", `translate(${pL},0)`)
  .call(d3.axisLeft(y).tickValues(yTicks).tickSize(11).tickPadding(7).tickFormat(d3.format(".1f")))
  .call(styleAxis)
  .call(g => g.selectAll("text").attr("font-family", FONT).attr("font-size", 20).attr("fill", "#000"));
svg.append("g").attr("transform", `translate(${pR},0)`)
  .call(d3.axisRight(y).tickValues(yTicks).tickSize(11).tickFormat(""))
  .call(styleAxis);

// plot frame
svg.append("rect")
  .attr("x", pL).attr("y", pT).attr("width", pR - pL).attr("height", pB - pT)
  .attr("fill", "none").attr("stroke", "#000").attr("stroke-width", 2.6);

// axis titles
svg.append("text")
  .attr("transform", `translate(250,${(pT + pB) / 2}) rotate(-90)`)
  .attr("text-anchor", "middle")
  .attr("font-family", FONT).attr("font-size", 23.5).attr("fill", "#000")
  .text(yTitle);
svg.append("text")
  .attr("x", (pL + pR) / 2).attr("y", 670)
  .attr("text-anchor", "middle")
  .attr("font-family", FONT).attr("font-size", 23).attr("fill", "#000")
  .text(xTitle);

// figure caption
const cap1 = svg.append("text").attr("x", 16).attr("y", 724)
  .attr("font-family", FONT).attr("font-size", 15.5).attr("fill", "#2b2b2b");
cap1.append("tspan").attr("font-weight", "bold").text("FIGURE 3 |");
cap1.append("tspan").text(" Record of absolute height change (with respect to the WGS84 Ellipsoid) at Matupit derived from RVO\u2019s daily processing of GNSS observations at station");
cap1.attr("textLength", 1319).attr("lengthAdjust", "spacingAndGlyphs");

const cap2 = svg.append("text").attr("x", 16).attr("y", 748)
  .attr("font-family", FONT).attr("font-size", 15.5).attr("fill", "#2b2b2b");
cap2.append("tspan").text("\u201cSDA\u201d since January 2000. The red-dashed lines mark dates where significant events occurred (described in ");
cap2.append("tspan").attr("font-weight", "bold").text("Table 3");
cap2.append("tspan").text(").");
cap2.attr("textLength", 943).attr("lengthAdjust", "spacingAndGlyphs");
</script>
</body>
</html>
